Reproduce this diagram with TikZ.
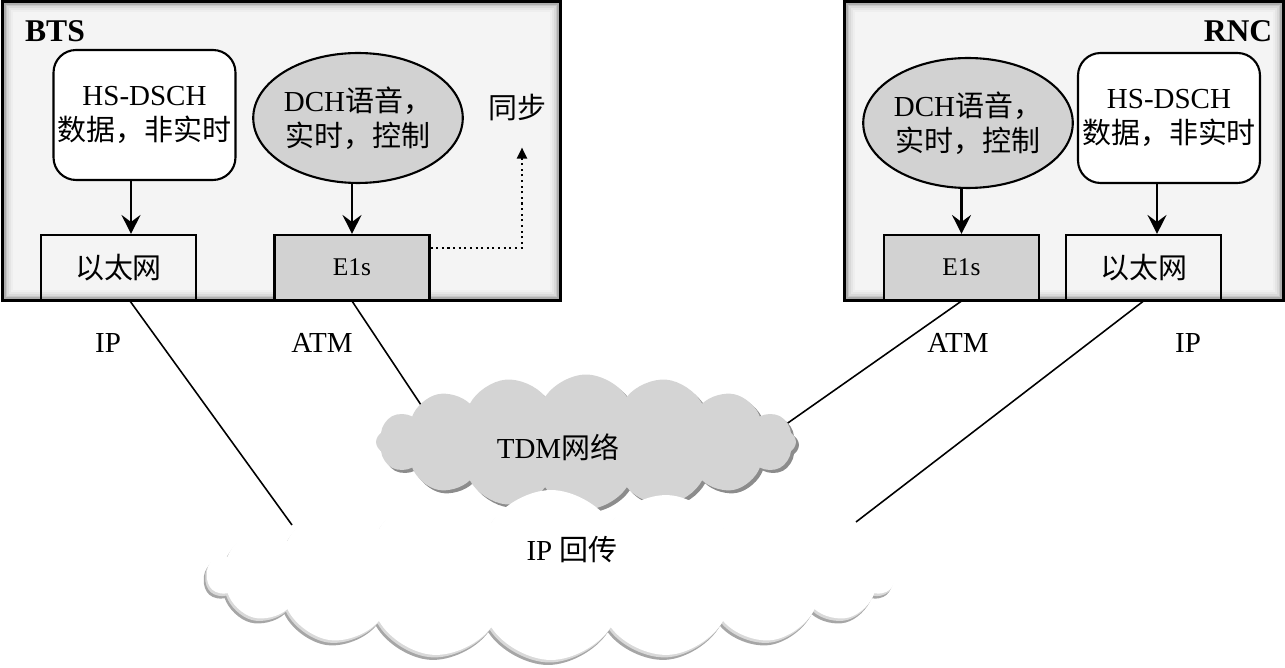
\documentclass[tikz,border=0pt]{standalone}
\usepackage{fontspec}
\setmainfont{Liberation Serif}
\newfontfamily\cjk{Noto Sans CJK SC}
\usetikzlibrary{positioning, arrows.meta, shapes.geometric, shapes.symbols, calc}
\definecolor{chan}{RGB}{210,210,210}
\definecolor{tdm}{RGB}{212,212,212}
\newcommand{\zh}[1]{{\cjk #1}}

\begin{document}
\begin{tikzpicture}[x=0.02cm, y=-0.02cm, font=\fontsize{16.5}{20}\selectfont,
  panel/.style={fill=black!45, minimum height=5.96cm, inner sep=0pt},
  hsbox/.style={draw, line width=1.2pt, rounded corners=0.45cm, fill=white, align=center, minimum width=3.64cm, minimum height=2.6cm, inner sep=0pt},
  voice/.style={ellipse, draw, line width=1.2pt, fill=chan, align=center, minimum width=3.92cm, minimum height=2.6cm, inner sep=0pt},
  port/.style={draw, line width=1.2pt, minimum width=3.1cm, minimum height=1.3cm, inner sep=0pt},
  ar/.style={-{Stealth[length=3.8mm, width=3.8mm, inset=1.4mm]}, line width=1.3pt},
  dots/.style={-{Triangle[length=2.2mm, width=2mm]}, line width=1.2pt, dotted},
  link/.style={line width=0.9pt},
  ipcloud/.style={cloud, cloud puffs=18, cloud puff arc=115, aspect=4, draw=none, minimum width=13.76cm, minimum height=3.4cm, inner sep=0pt},
  tdmcloud/.style={cloud, cloud puffs=16, cloud puff arc=115, aspect=3, draw=none, minimum width=8.4cm, minimum height=2.7cm, inner sep=0pt}]

\useasboundingbox (0,0) rectangle (1285,668);

% the two sites
\node[panel, minimum width=11.14cm] (bts) at (281.5,151) {};
\node[panel, minimum width=8.76cm] (rnc) at (1064,151) {};
\foreach \p in {bts,rnc}{
  \foreach \d/\k in {1.5/32,3/22,4.5/15,6/10,8/6.5,10/4.5}
    \fill[black!\k] ($(\p.north west)+(\d,\d)$) rectangle ($(\p.south east)+(-\d,-\d)$);
  \draw[line width=1.6pt] (\p.north west) rectangle (\p.south east);
}
\node[font=\fontsize{18}{20}\selectfont\bfseries] at (55,31) (btsname) {BTS};
\node[font=\fontsize{18}{20}\selectfont\bfseries] at (1238,31) (rncname) {RNC};

% BTS side
\node[hsbox] at (144.5,115) (hs1) {HS-DSCH\\ \zh{数据，非实时}};
\node[voice] at (358,118) (v1) {DCH\zh{语音，}\\ \zh{实时，控制}};
\node[port] at (118.5,267.5) (eth1) {\zh{以太网}};
\node[port, fill=chan, font=\fontsize{14.5}{17}\selectfont] at (352,267.5) (e1a) {E1s};
\node at (517,108) (sync) {\zh{同步}};

\draw[ar] ([xshift=-0.27cm]hs1.south) -- ([xshift=-0.27cm]hs1.south |- eth1.north);
\draw[ar] (e1a.north |- v1.south) -- (e1a.north);
\draw[dots] ([yshift=0.39cm]e1a.east) -| ([xshift=0.1cm, yshift=-0.4cm]sync.south);

% RNC side
\node[voice] at (968,123) (v2) {DCH\zh{语音，}\\ \zh{实时，控制}};
\node[hsbox] at (1169,118) (hs2) {HS-DSCH\\ \zh{数据，非实时}};
\node[port, fill=chan, font=\fontsize{14.5}{17}\selectfont] at (961.5,267.5) (e1b) {E1s};
\node[port] at (1143.5,267.5) (eth2) {\zh{以太网}};

\draw[ar] (e1b.north |- v2.south) -- (e1b.north);
\draw[ar] ([xshift=-0.24cm]hs2.south) -- ([xshift=-0.24cm]hs2.south |- eth2.north);

% backhaul links (ends hidden under the clouds)
\coordinate (ipL) at (292,525);
\coordinate (atmL) at (431,420);
\coordinate (atmR) at (775,432);
\coordinate (ipR) at (856,522);
\draw[link] ([xshift=0.23cm]eth1.south) -- (ipL);
\draw[link] (e1a.south) -- (atmL);
\draw[link] (e1b.south) -- (atmR);
\draw[link] (eth2.south) -- (ipR);

\node at (108,343) (lip1) {IP};
\node at (322,343) (latm1) {ATM};
\node at (958,343) (latm2) {ATM};
\node at (1188,343) (lip2) {IP};

% clouds
\node[tdmcloud, fill=black!45] at ([shift={(3,3)}]586,442) (tdmsh) {};
\node[tdmcloud, fill=tdm] at (586,442) (tdm) {};
\node at (558,447) (tdmtxt) {TDM\zh{网络}};
\node[ipcloud, fill=black!35] at ([shift={(-3,5)}]551,575) (ipsh2) {};
\node[ipcloud, fill=black!15] at ([shift={(-1.5,2.5)}]551,575) (ipsh1) {};
\node[ipcloud, fill=white] at (551,575) (ip) {};
\node at (572,550) (iptxt) {IP \zh{回传}};
\end{tikzpicture}
\end{document}
